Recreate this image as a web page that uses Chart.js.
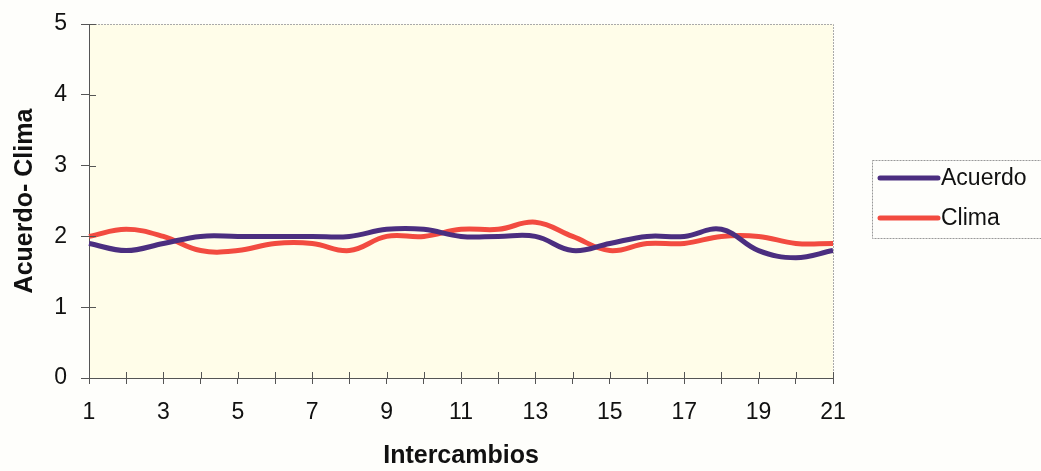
<!DOCTYPE html>
<html>
<head>
<meta charset="utf-8">
<script src="https://cdn.jsdelivr.net/npm/chart.js@4.4.1/dist/chart.umd.min.js"></script>
<style>
	html, body { margin: 0; padding: 0; background: #fefefb; }
	#wrap { width: 1041px; height: 471px; }
</style>
</head>
<body>
<div id="wrap"><canvas id="grafico" width="1041" height="471"></canvas></div>
<script>
// datos
var intercambios = ["1","2","3","4","5","6","7","8","9","10","11","12","13","14","15","16","17","18","19","20","21"];
var acuerdo = [1.9, 1.8, 1.9, 2.0, 2.0, 2.0, 2.0, 2.0, 2.1, 2.1, 2.0, 2.0, 2.0, 1.8, 1.9, 2.0, 2.0, 2.1, 1.8, 1.7, 1.8];
var clima   = [2.0, 2.1, 2.0, 1.8, 1.8, 1.9, 1.9, 1.8, 2.0, 2.0, 2.1, 2.1, 2.2, 2.0, 1.8, 1.9, 1.9, 2.0, 2.0, 1.9, 1.9];
var yTicks = [0, 1, 2, 3, 4, 5];

var axisColor = "#555";
var fuente = "'Liberation Sans', Arial, sans-serif";

// fondo amarillo, borde gris arriba/derecha y marcas que cruzan el eje
var plotDeco = {
	id: "plotDeco",
	beforeDraw: function(chart) {
		var c = chart.ctx, a = chart.chartArea;
		c.save();
		c.fillStyle = "#fffde9";
		c.fillRect(a.left, a.top, a.right - a.left, a.bottom - a.top);
		c.restore();
	},
	afterDatasetsDraw: function(chart) {
		var c = chart.ctx, a = chart.chartArea;
		var x = chart.scales.x, y = chart.scales.y;
		c.save();
		c.strokeStyle = "#aaa";
		c.lineWidth = 1;
		c.setLineDash([2, 1]);
		c.beginPath();
		c.moveTo(a.left, a.top + 0.5);
		c.lineTo(a.right + 0.5, a.top + 0.5);
		c.lineTo(a.right + 0.5, a.bottom);
		c.stroke();
		c.setLineDash([]);
		c.strokeStyle = axisColor;
		c.beginPath();
		for (var i = 0; i < intercambios.length; i++) {
			var px = Math.round(x.getPixelForValue(i)) + 0.5;
			c.moveTo(px, a.bottom - 6);
			c.lineTo(px, a.bottom);
		}
		for (var j = 0; j < yTicks.length; j++) {
			var py = Math.round(y.getPixelForValue(yTicks[j])) + 0.5;
			c.moveTo(a.left, py);
			c.lineTo(a.left + 7, py);
		}
		c.stroke();
		c.restore();
	}
};

// leyenda con recuadro
var legendBox = {
	id: "legendBox",
	afterDraw: function(chart) {
		var c = chart.ctx;
		var bx = 872, by = 160, bw = 170, bh = 78;
		c.save();
		c.strokeStyle = "#999";
		c.lineWidth = 1;
		c.setLineDash([2, 1]);
		c.strokeRect(bx + 0.5, by + 0.5, bw, bh);
		c.setLineDash([]);
		c.font = "23px " + fuente;
		c.textBaseline = "middle";
		chart.data.datasets.forEach(function(ds, i) {
			var ly = by + 18 + i * 40;
			c.strokeStyle = ds.borderColor;
			c.lineWidth = 5;
			c.lineCap = "round";
			c.beginPath();
			c.moveTo(880, ly);
			c.lineTo(938, ly);
			c.stroke();
			c.fillStyle = "#111";
			c.fillText(ds.label, 941, ly + 1);
		});
		c.restore();
	}
};

var ctx = document.getElementById("grafico");

var data = {
	labels: intercambios,
	datasets: [
		{
			label: "Acuerdo",
			data: acuerdo,
			borderColor: "#4b2e80",
			borderWidth: 5,
			fill: false,
			tension: 0.4,
			pointRadius: 0
		},
		{
			label: "Clima",
			data: clima,
			borderColor: "#f24b40",
			borderWidth: 5,
			fill: false,
			tension: 0.4,
			pointRadius: 0
		}
	]
};

var options = {
	responsive: false,
	animation: false,
	layout: { padding: { top: 24, right: 208, left: 0, bottom: 0 } },
	plugins: {
		legend: { display: false },
		tooltip: { enabled: false }
	},
	scales: {
		x: {
			type: "category",
			offset: false,
			afterFit: function(s) { s.height = 93; },
			grid: { drawOnChartArea: false, color: axisColor, tickLength: 6 },
			border: { color: axisColor, width: 1 },
			ticks: {
				autoSkip: false,
				maxRotation: 0,
				padding: 15,
				color: "#111",
				font: { family: fuente, size: 23 },
				callback: function(v, i) { return i % 2 === 0 ? intercambios[i] : ""; }
			},
			title: {
				display: true,
				text: "Intercambios",
				color: "#111",
				padding: { top: 0, bottom: 0 },
				font: { family: fuente, size: 25, weight: "bold" }
			}
		},
		y: {
			min: 0,
			max: 5,
			afterFit: function(s) { s.width = 89; s.paddingTop = 0; s.paddingBottom = 0; },
			afterBuildTicks: function(s) { s.ticks = yTicks.map(function(v) { return { value: v }; }); },
			grid: { drawOnChartArea: false, color: axisColor, tickLength: 8 },
			border: { color: axisColor, width: 1 },
			ticks: {
				padding: 14,
				color: "#111",
				font: { family: fuente, size: 23 }
			},
			title: {
				display: true,
				text: "Acuerdo- Clima",
				color: "#111",
				padding: { top: 10, bottom: 0 },
				font: { family: fuente, size: 25, weight: "bold" }
			}
		}
	}
};

var chart = new Chart(ctx, {
	type: "line",
	data: data,
	options: options,
	plugins: [plotDeco, legendBox]
});
</script>
</body>
</html>
